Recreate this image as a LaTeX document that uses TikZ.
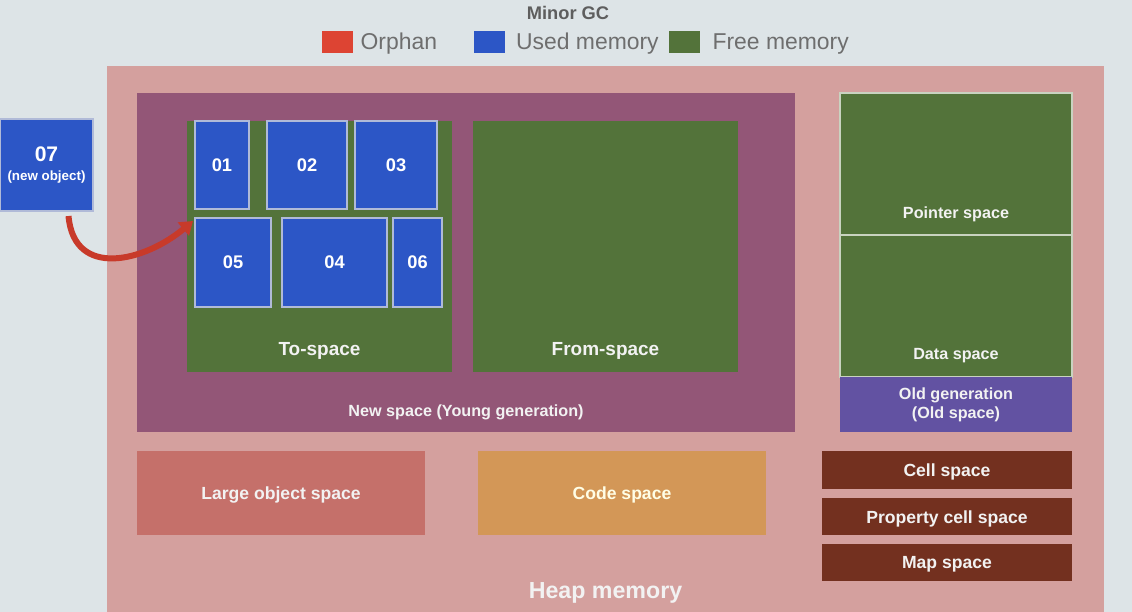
\documentclass[tikz,border=0pt]{standalone}
\usepackage{fontspec}
\setmainfont{Liberation Sans}
\usetikzlibrary{arrows.meta,positioning,fit}

\newdimen\pxu
\pxu=0.025cm

\definecolor{bgcol}{HTML}{DDE4E7}
\definecolor{heapcol}{HTML}{D4A09E}
\definecolor{newcol}{HTML}{935677}
\definecolor{freegreen}{HTML}{53733A}
\definecolor{usedblue}{HTML}{2C56C6}
\definecolor{orphanred}{HTML}{DD4433}
\definecolor{oldpurple}{HTML}{6252A2}
\definecolor{cellbrown}{HTML}{73301F}
\definecolor{largecol}{HTML}{C5706A}
\definecolor{codecol}{HTML}{D39757}
\definecolor{objedge}{HTML}{B0BAD8}
\definecolor{greenedge}{HTML}{C9D3C0}
\definecolor{legendgray}{HTML}{6E6E6E}
\definecolor{arrowred}{HTML}{C83A2A}

\tikzset{
  region/.style={inner sep=0pt, outer sep=0pt, fill=#1},
  lbl/.style={text=white!95!black, inner sep=0pt, align=center,
    font=\bfseries\fontsize{11.5}{13.5}\selectfont},
  biglbl/.style={lbl, font=\bfseries\fontsize{13.5}{15}\selectfont},
  midlbl/.style={lbl, yshift=-2\pxu, font=\bfseries\fontsize{12.5}{14}\selectfont},
  objbox/.style={region=usedblue, draw=objedge, line width=1.2\pxu},
  objtxt/.style={text=white, inner sep=0pt, align=center,
    font=\bfseries\fontsize{13}{15}\selectfont},
  swatch/.style={fill=#1, inner sep=0pt, minimum width=31\pxu, minimum height=22\pxu},
  legend/.style={text=legendgray, inner sep=0pt, font=\fontsize{16.3}{18}\selectfont},
}

\begin{document}
\begin{tikzpicture}[x=0.025cm, y=-0.025cm]

% --- background ---
\fill[bgcol] (0,0) rectangle (1132,612);
\useasboundingbox (0,0) rectangle (1132,612);

% --- title and legend ---
\node[text=legendgray!85!black, inner sep=0pt, font=\bfseries\fontsize{13}{15}\selectfont] (minorgc) at (568,13) {Minor GC};
\node[swatch=orphanred] (sworphan) at (337.5,42) {};
\node[legend, right=7\pxu of sworphan, yshift=-2\pxu] (ltorphan) {Orphan};
\node[swatch=usedblue] (swused) at (489,42) {};
\node[legend, right=11\pxu of swused, yshift=-2\pxu] (ltused) {Used memory};
\node[swatch=freegreen] (swfree) at (684.5,42) {};
\node[legend, right=12\pxu of swfree, yshift=-2\pxu] (ltfree) {Free memory};

% --- heap ---
\node[region=heapcol, fit={(107,66) (1104,612)}] (heap) {};
\node[lbl, font=\bfseries\fontsize{16.5}{18}\selectfont] (heaplbl) at ([yshift=19\pxu]heap.south) {Heap memory};

% --- new space ---
\node[region=newcol, fit={(137,93) (795,432)}] (newsp) {};
\node[lbl] (newlbl) at ([yshift=20\pxu]newsp.south) {New space (Young generation)};

\node[region=freegreen, fit={(187,121) (452,372)}] (tosp) {};
\node[biglbl] (tolbl) at ([yshift=21\pxu]tosp.south) {To-space};
\node[region=freegreen, fit={(473,121) (738,372)}] (fromsp) {};
\node[biglbl] (fromlbl) at ([yshift=21\pxu]fromsp.south) {From-space};

% --- objects in to-space ---
\node[objbox, fit={(195,121) (249,209)}, label={[objtxt]center:01}] (obj01) {};
\node[objbox, fit={(267,121) (347,209)}, label={[objtxt]center:02}] (obj02) {};
\node[objbox, fit={(355,121) (437,209)}, label={[objtxt]center:03}] (obj03) {};
\node[objbox, fit={(195,218) (271,307)}, label={[objtxt]center:05}] (obj05) {};
\node[objbox, fit={(282,218) (387,307)}, label={[objtxt]center:04}] (obj04) {};
\node[objbox, fit={(393,218) (442,307)}, label={[objtxt]center:06}] (obj06) {};

% --- new object ---
\node[objbox, fit={(0,119) (93,211)},
  label={[objtxt]center:{{\fontsize{15}{15}\selectfont 07}\\[-1pt]{\fontsize{9.5}{11}\selectfont(new object)}}}] (obj07) {};
\draw[arrowred, line width=6\pxu, -{Triangle[length=9pt,width=12pt]}]
  ([xshift=22\pxu,yshift=-5\pxu]obj07.south) to[out=-85, in=-140, looseness=1.3]
  ([xshift=-2\pxu,yshift=-3\pxu]obj05.north west);

% --- old generation ---
\node[region=freegreen, draw=greenedge, line width=1.2\pxu, fit={(840,93) (1072,235)}] (ptrsp) {};
\node[lbl] (ptrlbl) at ([yshift=21\pxu]ptrsp.south) {Pointer space};
\node[region=freegreen, draw=greenedge, line width=1.2\pxu, fit={(840,235) (1072,377)}] (datasp) {};
\node[lbl] (datalbl) at ([yshift=21\pxu]datasp.south) {Data space};
\node[region=oldpurple, fit={(840,377) (1072,432)}] (oldsp) {};
\node[lbl] (oldlbl) at (oldsp.center) {Old generation\\(Old space)};

% --- other spaces ---
\node[region=largecol, fit={(137,451) (425,535)}] (largesp) {};
\node[midlbl] (largelbl) at (largesp.center) {Large object space};
\node[region=codecol, fit={(478,451) (766,535)}] (codesp) {};
\node[midlbl, text=white!90!yellow] (codelbl) at (codesp.center) {Code space};

\node[region=cellbrown, fit={(822,451) (1072,489)}] (cellsp) {};
\node[midlbl] (celllbl) at (cellsp.center) {Cell space};
\node[region=cellbrown, fit={(822,498) (1072,535)}] (propsp) {};
\node[midlbl] (proplbl) at (propsp.center) {Property cell space};
\node[region=cellbrown, fit={(822,544) (1072,581)}] (mapsp) {};
\node[midlbl] (maplbl) at (mapsp.center) {Map space};

\end{tikzpicture}
\end{document}
